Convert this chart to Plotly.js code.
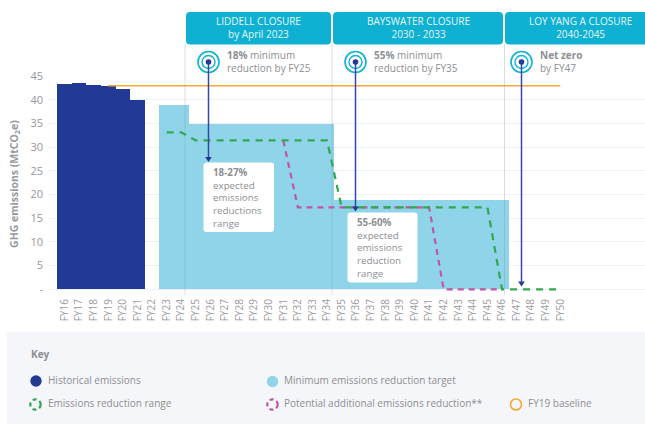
<!DOCTYPE html>
<html><head><meta charset="utf-8">
<script src="https://cdn.plot.ly/plotly-3.0.0.min.js"></script>
<style>html,body{margin:0;padding:0;background:#fff;overflow:hidden}#c{width:645px;height:424px}</style>
</head><body><div id="c"></div>
<script>
const W=645,H=424;
const categories=["FY16","FY17","FY18","FY19","FY20","FY21","FY22","FY23","FY24","FY25","FY26","FY27","FY28","FY29","FY30","FY31","FY32","FY33","FY34","FY35","FY36","FY37","FY38","FY39","FY40","FY41","FY42","FY43","FY44","FY45","FY46","FY47","FY48","FY49","FY50"];
const histYears=["FY16","FY17","FY18","FY19","FY20","FY21"];
const histValues=[43.4,43.5,43.15,42.9,42.3,39.9];
const targetYears=["FY23","FY24","FY25","FY26","FY27","FY28","FY29","FY30","FY31","FY32","FY33","FY34","FY35","FY36","FY37","FY38","FY39","FY40","FY41","FY42","FY43","FY44","FY45","FY46"];
const targetValues=[38.8,38.8,34.85,34.85,34.85,34.85,34.85,34.85,34.85,34.85,34.85,34.85,18.9,18.9,18.9,18.9,18.9,18.9,18.9,18.9,18.9,18.9,18.9,18.9];
const rangeYears=["FY23","FY24","FY25","FY26","FY27","FY28","FY29","FY30","FY31","FY32","FY33","FY34","FY35","FY36","FY37","FY38","FY39","FY40","FY41","FY42","FY43","FY44","FY45","FY46","FY47","FY48","FY49","FY50"];
const rangeValues=[33.1,33.1,31.4,31.4,31.4,31.4,31.4,31.4,31.4,31.4,31.4,31.4,17.3,17.3,17.3,17.3,17.3,17.3,17.3,17.3,17.3,17.3,17.3,0,0,0,0,0];
const addYears=["FY31","FY32","FY33","FY34","FY35","FY36","FY37","FY38","FY39","FY40","FY41","FY42","FY43","FY44","FY45","FY46"];
const addValues=[31.4,17.3,17.3,17.3,17.3,17.3,17.3,17.3,17.3,17.3,17.3,0,0,0,0,0];
const baseYears=categories.slice(3);
const baseValues=baseYears.map(()=>42.95);
const yTicks=[0,5,10,15,20,25,30,35,40,45];
const yTickText=["-","5","10","15","20","25","30","35","40","45"];

const NAVY="#223a94",SKY="#90d4e9",GREEN="#2fa84f",PURPLE="#c0569f",ORANGE="#f7a733",TEAL="#0eb1d2",ARROW="#2f4aa6",TXT="#8d8f93";
const FONT='"Open Sans", sans-serif';
const px=x=>x/W, py=y=>1-y/H;
function rr(x0,y0,x1,y1,r,fill){
  const a=[px(x0),px(x0+r),px(x1-r),px(x1)], b=[py(y0),py(y0+r),py(y1-r),py(y1)];
  return {type:"path",xref:"paper",yref:"paper",layer:"above",fillcolor:fill,line:{width:0},
    path:`M${a[1]},${b[0]} L${a[2]},${b[0]} Q${a[3]},${b[0]} ${a[3]},${b[1]} L${a[3]},${b[2]} Q${a[3]},${b[3]} ${a[2]},${b[3]} L${a[1]},${b[3]} Q${a[0]},${b[3]} ${a[0]},${b[2]} L${a[0]},${b[1]} Q${a[0]},${b[0]} ${a[1]},${b[0]} Z`};
}
function circ(cx,cy,r,fill,lc,lw,dash){
  return {type:"circle",xref:"paper",yref:"paper",layer:"above",x0:px(cx-r),x1:px(cx+r),y0:py(cy+r),y1:py(cy-r),
    fillcolor:fill,line:{color:lc||fill,width:lw||0,dash:dash||"solid"}};
}
function vline(x,y0,y1){return {type:"line",xref:"paper",yref:"paper",layer:"above",x0:px(x),x1:px(x),y0:py(y0),y1:py(y1),line:{color:"rgba(120,135,150,0.28)",width:1}};}
function label(x,y,text,o){o=o||{};return {xref:"paper",yref:"paper",x:px(x),y:py(y),text,showarrow:false,xanchor:o.xa||"left",yanchor:o.ya||"middle",align:o.xa==="center"?"center":"left",
  font:{family:FONT,size:o.size||10,color:o.color||TXT},borderpad:0};}
function arrowShapes(x,y0,y1){
  return [
    {type:"line",xref:"paper",yref:"paper",layer:"above",x0:px(x),x1:px(x),y0:py(y0),y1:py(y1-3),line:{color:ARROW,width:1.5}},
    {type:"path",xref:"paper",yref:"paper",layer:"above",fillcolor:NAVY,line:{width:0},
      path:`M${px(x-3.3)},${py(y1-5)} L${px(x+3.3)},${py(y1-5)} L${px(x)},${py(y1)} Z`}
  ];
}

const shapes=[
  {type:"rect",xref:"paper",yref:"paper",layer:"below",x0:px(7),x1:1,y0:0,y1:py(332),fillcolor:"#f5f6f9",line:{width:0}},
  vline(185,44,295),vline(332,44,295),vline(504.5,44,295),
  rr(186,12,331,44.5,4,TEAL),rr(333,12,503,44.5,4,TEAL),rr(505,12,648,44.5,4,TEAL),
  rr(203.5,162.5,274,232,3,"#ffffff"),rr(347.5,212.5,417.5,282.5,3,"#ffffff")
];
[208.5,355.5,521.5].forEach(x=>{
  shapes.push(circ(x,62,10.5,"#ffffff",TEAL,1.6),circ(x,62,6.5,"#ffffff",TEAL,1.4));
});
shapes.push(...arrowShapes(208.5,62,162),...arrowShapes(355.5,62,211.5),...arrowShapes(521.5,62,286.5));
[208.5,355.5,521.5].forEach(x=>shapes.push(circ(x,62,2.8,NAVY)));
shapes.push(circ(36,381,5.7,NAVY),circ(272.5,381.5,5.7,SKY),
  circ(35.5,404.5,5.2,"rgba(0,0,0,0)",GREEN,2.2,"4px,3px"),
  circ(272.5,404.5,5.2,"rgba(0,0,0,0)",PURPLE,2.2,"4px,3px"),
  circ(516,404.5,5.5,"rgba(0,0,0,0)",ORANGE,1.6));

const HDR="#e6f6fa";
const annotations=[
  label(258.5,27.5,"LIDDELL CLOSURE<br>by April 2023",{xa:"center",color:HDR}),
  label(418,27.5,"BAYSWATER CLOSURE<br>2030 - 2033",{xa:"center",color:HDR}),
  label(580,27.5,"LOY YANG A CLOSURE<br>2040-2045",{xa:"center",color:HDR}),
  label(225.5,61,"<b>18%</b> minimum<br>reduction by FY25"),
  label(372.5,61,"<b>55%</b> minimum<br>reduction by FY35"),
  label(539,61,"<b>Net zero</b><br>by FY47"),
  label(212.5,198,"<b>18-27%</b><br>expected<br>emissions<br>reductions<br>range",{size:9.8}),
  label(355.5,248,"<b>55-60%</b><br>expected<br>emissions<br>reduction<br>range",{size:9.8}),
  label(30,354,"<b>Key</b>"),
  label(46.5,380,"Historical emissions"),
  label(283,380,"Minimum emissions reduction target"),
  label(46.5,403,"Emissions reduction range"),
  label(283,403,"Potential additional emissions reduction**"),
  label(527,403,"FY19 baseline")
];

const traces=[
  {type:"bar",name:"Historical emissions",x:histYears,y:histValues,width:1,marker:{color:NAVY,line:{width:0}},hoverinfo:"x+y"},
  {type:"bar",name:"Minimum emissions reduction target",x:targetYears,y:targetValues,width:1,marker:{color:SKY,line:{width:0}},hoverinfo:"x+y"},
  {type:"scatter",mode:"lines",name:"FY19 baseline",x:baseYears,y:baseValues,line:{color:ORANGE,width:1.4}},
  {type:"scatter",mode:"lines",name:"Potential additional emissions reduction**",x:addYears,y:addValues,line:{color:PURPLE,width:2.2,dash:"6px,5px"}},
  {type:"scatter",mode:"lines",name:"Emissions reduction range",x:rangeYears,y:rangeValues,line:{color:GREEN,width:2.2,dash:"7px,6px"}}
];

const step=14.58,first=64.6,left=48,yPx=4.744,yLow=-0.6;
const layout={
  width:W,height:H,margin:{l:0,r:0,t:0,b:0,pad:0},paper_bgcolor:"#fff",plot_bgcolor:"rgba(0,0,0,0)",
  showlegend:false,barmode:"overlay",bargap:0,font:{family:FONT,color:TXT},
  xaxis:{type:"category",categoryorder:"array",categoryarray:categories,domain:[px(left),1],anchor:"y",
    range:[(left-first)/step,(W-first)/step],tickmode:"array",tickvals:categories,ticktext:categories,showgrid:false,zeroline:false,showline:false,
    ticks:"",tickangle:-90,tickfont:{family:FONT,size:10,color:"#999b9f"},ticklabelstandoff:4},
  yaxis:{domain:[py(289.3-yLow*yPx),py(76)],range:[yLow,45],anchor:"x",tickmode:"array",tickvals:yTicks,ticktext:yTickText,
    showgrid:true,gridcolor:"#eef0f3",gridwidth:1,zeroline:false,showline:false,ticks:"",
    tickfont:{family:FONT,size:11,color:"#95979b"},ticklabelstandoff:4,
    title:{text:"<b>GHG emissions (MtCO<sub>2</sub>e)</b>",font:{family:FONT,size:10.5,color:"#97999d"},standoff:9}},
  shapes,annotations
};
Plotly.newPlot("c",traces,layout,{displayModeBar:false,staticPlot:true});
</script></body></html>
